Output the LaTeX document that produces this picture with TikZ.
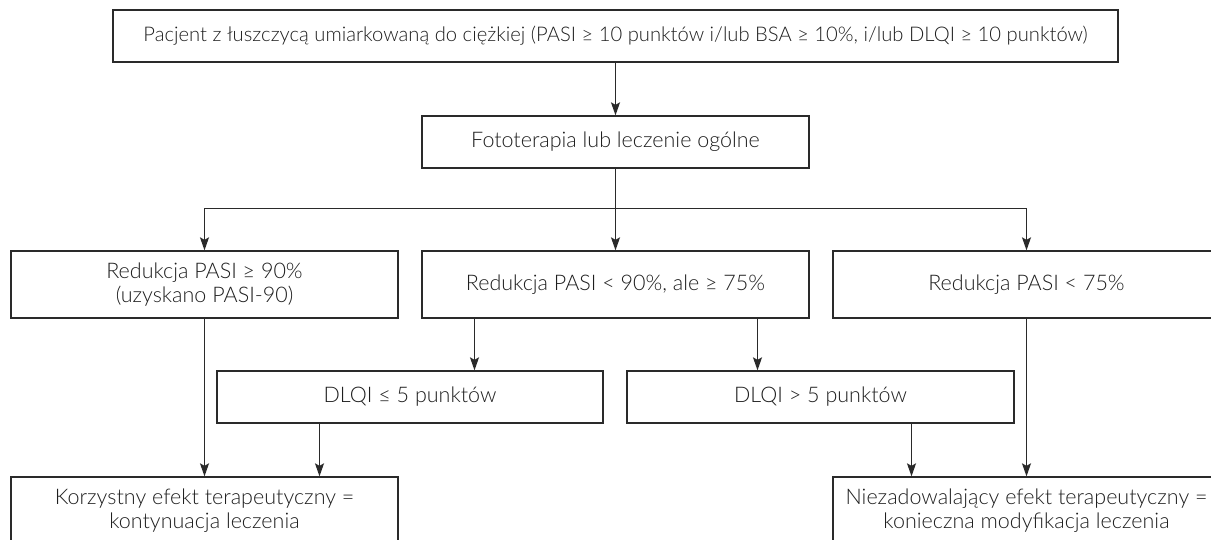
\documentclass[tikz,border=0pt]{standalone}
\usepackage{fontspec}
\setmainfont{Lato Light}
\usetikzlibrary{arrows.meta}
\definecolor{ln}{HTML}{2A2A2A}
\definecolor{tx}{HTML}{1E1E1E}
\tikzset{
  box/.style={draw=ln, line width=1.3pt, rectangle, inner sep=0pt, align=center,
    text=tx, font=\fontsize{21.5}{24}\selectfont, minimum height=52pt},
  wbox/.style={box, minimum width=387pt},
  tbox/.style={box, minimum width=387pt, minimum height=67pt},
  arr/.style={draw=ln, line width=1.3pt, -{Stealth[length=13pt,width=9pt,inset=2.5pt]}},
  con/.style={draw=ln, line width=1.3pt}
}
\begin{document}
\begin{tikzpicture}[x=1pt,y=-1pt]
\useasboundingbox[fill=white] (0,0) rectangle (1211,540);
\node[box, minimum width=1005pt, font=\fontsize{20.2}{24}\selectfont] (top) at (615.5,36) {Pacjent z łuszczycą umiarkowaną do ciężkiej (PASI ≥ 10 punktów i/lub BSA ≥ 10\%, i/lub DLQI ≥ 10 punktów)};
\node[wbox] (foto) at (615.5,142) {Fototerapia lub leczenie ogólne};
\node[tbox] (r1) at (204.5,284.5) {Redukcja PASI ≥ 90\%\\(uzyskano PASI-90)};
\node[tbox] (r2) at (615.5,284.5) {Redukcja PASI < 90\%, ale ≥ 75\%};
\node[tbox] (r3) at (1026.5,284.5) {Redukcja PASI < 75\%};
\node[box, minimum width=386pt] (d1) at (410,397) {DLQI ≤ 5 punktów};
\node[box, minimum width=387pt] (d2) at (820.5,397) {DLQI > 5 punktów};
\node[tbox] (b1) at (204.5,510.5) {Korzystny efekt terapeutyczny =\\kontynuacja leczenia};
\node[tbox] (b2) at (1026.5,510.5) {Niezadowalający efekt terapeutyczny =\\konieczna modyfikacja leczenia};
\coordinate (split) at (615.5,208.5);
\coordinate (xa) at (474.5,0);
\coordinate (xb) at (757.5,0);
\coordinate (xc) at (319.5,0);
\coordinate (xd) at (911.5,0);
\draw[arr] (top) -- (foto);
\draw[con] (foto.south) -- (split);
\draw[arr] (split) -- (r2.north);
\draw[arr] (split) -| (r1.north);
\draw[arr] (split) -| (r3.north);
\draw[arr] (r2.south -| xa) -- (d1.north -| xa);
\draw[arr] (r2.south -| xb) -- (d2.north -| xb);
\draw[arr] (r1.south) -- (b1.north);
\draw[arr] (d1.south -| xc) -- (b1.north -| xc);
\draw[arr] (d2.south -| xd) -- (b2.north -| xd);
\draw[arr] (r3.south) -- (b2.north);
\end{tikzpicture}
\end{document}
